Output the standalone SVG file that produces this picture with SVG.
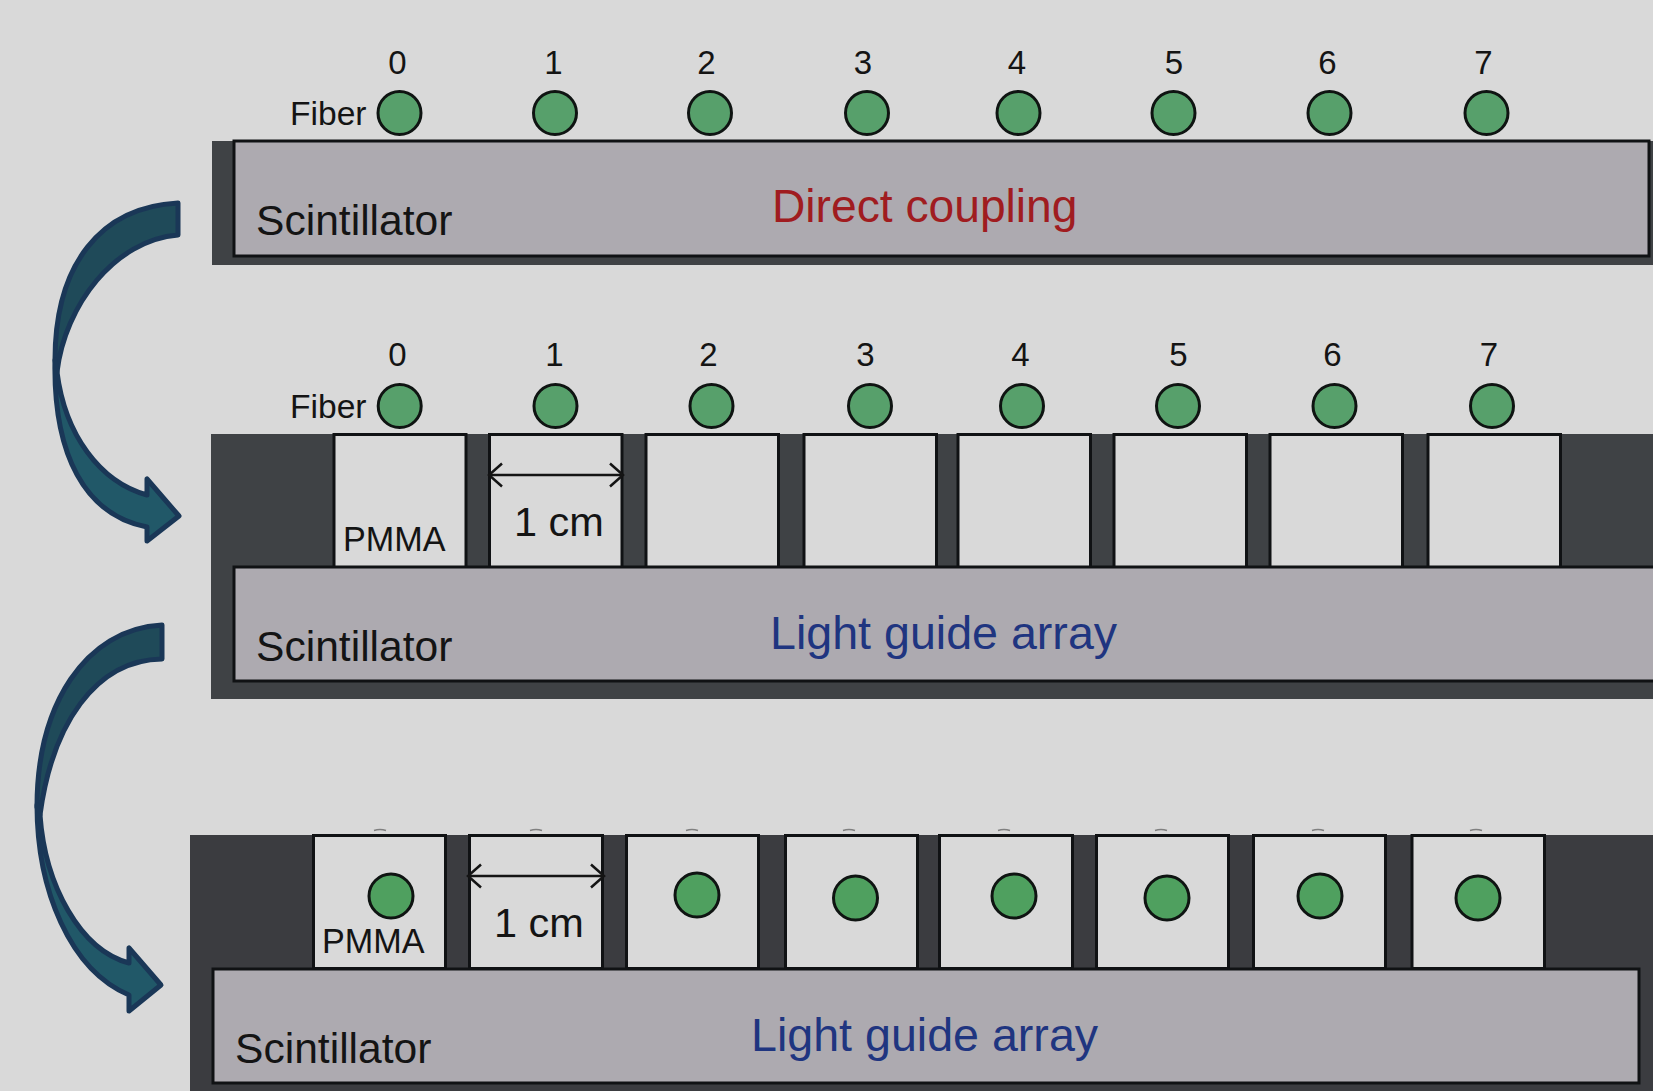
<svg xmlns="http://www.w3.org/2000/svg" width="1653" height="1091" viewBox="0 0 1653 1091">
<style>
text{font-family:"Liberation Sans",Arial,sans-serif;fill:#141414}
.band{fill:#3f4245}.band3{fill:#3b3c40}
.sc{fill:#adaab0;stroke:#101214;stroke-width:3}
.sq{fill:#d9d9d9;stroke:#101214;stroke-width:3}
.fb{fill:#57a06b;stroke:#0f1412;stroke-width:3}
.fb3{fill:#4fa05f;stroke:#0f1412;stroke-width:3}
.n{font-size:33px;text-anchor:middle}
.f{font-size:33.6px}
.s{font-size:42.6px}
.p{font-size:34.200px}
.c{font-size:41.500px}
.lg{font-size:46.600px;fill:#1f3580}
.dc{font-size:46.200px;fill:#a01c20}
.up{fill:#1f4a59;stroke:#1a3757;stroke-width:5;stroke-linejoin:round}
.lo{fill:#215868;stroke:#1a3757;stroke-width:5;stroke-linejoin:round}
.dim{fill:none;stroke:#141414;stroke-width:2.5;marker-start:url(#v);marker-end:url(#v)}
.tick{fill:none;stroke:#808080;stroke-width:1.500}
</style>
<defs>
<marker id="v" markerUnits="userSpaceOnUse" markerWidth="20" markerHeight="28" refX="14" refY="14" orient="auto-start-reverse"><path d="M1 2.500L14 14L1 25.500" fill="none" stroke="#141414" stroke-width="2.500"/></marker>
</defs>
<rect width="1653" height="1091" fill="#d9d9d9"/>
<g id="panel-direct">
<rect class="band" x="212" y="141" width="1441" height="124"/>
<rect class="sc" x="234" y="141" width="1415" height="115"/>
<text class="s" x="256" y="235">Scintillator</text>
<text class="dc" x="772" y="222">Direct coupling</text>
<text class="f" x="290" y="125">Fiber</text>
</g>
<g id="fibers-1">
<g id="f1-0"><text class="n" x="397.500" y="74">0</text><circle class="fb" cx="399.500" cy="113" r="21.500"/></g>
<g id="f1-1"><text class="n" x="553.500" y="74">1</text><circle class="fb" cx="555" cy="113" r="21.500"/></g>
<g id="f1-2"><text class="n" x="706.500" y="74">2</text><circle class="fb" cx="710" cy="113" r="21.500"/></g>
<g id="f1-3"><text class="n" x="863" y="74">3</text><circle class="fb" cx="867" cy="113" r="21.500"/></g>
<g id="f1-4"><text class="n" x="1017" y="74">4</text><circle class="fb" cx="1018.500" cy="113" r="21.500"/></g>
<g id="f1-5"><text class="n" x="1174" y="74">5</text><circle class="fb" cx="1173.500" cy="113" r="21.500"/></g>
<g id="f1-6"><text class="n" x="1327.500" y="74">6</text><circle class="fb" cx="1329.500" cy="113" r="21.500"/></g>
<g id="f1-7"><text class="n" x="1483.500" y="74">7</text><circle class="fb" cx="1486.500" cy="113" r="21.500"/></g>
</g>
<g id="panel-guide">
<rect class="band" x="211" y="434" width="1442" height="265"/>
<rect class="sq" x="334" y="434.500" width="132" height="133"/>
<rect class="sq" x="489.500" y="434.500" width="132.500" height="133"/>
<rect class="sq" x="646" y="434.500" width="132.500" height="133"/>
<rect class="sq" x="804" y="434.500" width="132.500" height="133"/>
<rect class="sq" x="958" y="434.500" width="132.500" height="133"/>
<rect class="sq" x="1114" y="434.500" width="132.500" height="133"/>
<rect class="sq" x="1270" y="434.500" width="132.500" height="133"/>
<rect class="sq" x="1428" y="434.500" width="132.500" height="133"/>
<rect class="sc" x="234" y="567" width="1422" height="114"/>
<text class="s" x="256" y="661">Scintillator</text>
<text class="lg" x="770" y="649">Light guide array</text>
<text class="f" x="290" y="418">Fiber</text>
<text class="p" x="343" y="551">PMMA</text>
<text class="c" x="514" y="536">1 cm</text>
</g>
<g id="fibers-2">
<g id="f2-0"><text class="n" x="397.500" y="366">0</text><circle class="fb" cx="399.700" cy="406" r="21.500"/></g>
<g id="f2-1"><text class="n" x="554.500" y="366">1</text><circle class="fb" cx="555.500" cy="406" r="21.500"/></g>
<g id="f2-2"><text class="n" x="708.500" y="366">2</text><circle class="fb" cx="711.500" cy="406" r="21.500"/></g>
<g id="f2-3"><text class="n" x="865.500" y="366">3</text><circle class="fb" cx="870" cy="406" r="21.500"/></g>
<g id="f2-4"><text class="n" x="1020.500" y="366">4</text><circle class="fb" cx="1022" cy="406" r="21.500"/></g>
<g id="f2-5"><text class="n" x="1178.500" y="366">5</text><circle class="fb" cx="1178" cy="406" r="21.500"/></g>
<g id="f2-6"><text class="n" x="1332.500" y="366">6</text><circle class="fb" cx="1334.500" cy="406" r="21.500"/></g>
<g id="f2-7"><text class="n" x="1489" y="366">7</text><circle class="fb" cx="1492" cy="406" r="21.500"/></g>
</g>
<g id="panel-embedded">
<path class="tick" d="M374 830.500q6 -2 12 0M530 830.500q6 -2 12 0M686 830.500q6 -2 12 0M843 830.500q6 -2 12 0M998 830.500q6 -2 12 0M1155 830.500q6 -2 12 0M1312 830.500q6 -2 12 0M1470 830.500q6 -2 12 0"/>
<rect class="band3" x="190" y="835" width="1463" height="256"/>
<rect class="sq" x="313.500" y="835.500" width="132" height="133"/>
<rect class="sq" x="469.500" y="835.500" width="133" height="133"/>
<rect class="sq" x="626.500" y="835.500" width="132" height="133"/>
<rect class="sq" x="785.500" y="835.500" width="132" height="133"/>
<rect class="sq" x="939.500" y="835.500" width="133" height="133"/>
<rect class="sq" x="1096.500" y="835.500" width="132" height="133"/>
<rect class="sq" x="1253.500" y="835.500" width="132" height="133"/>
<rect class="sq" x="1412" y="835.500" width="132.500" height="133"/>
<rect class="sc" x="213" y="969" width="1426" height="114"/>
<text class="s" x="235" y="1063">Scintillator</text>
<text class="lg" x="751" y="1051">Light guide array</text>
<text class="p" x="322" y="953">PMMA</text>
<text class="c" x="494" y="937">1 cm</text>
</g>
<g id="fibers-3">
<circle id="f3-0" class="fb3" cx="391" cy="896" r="22"/>
<circle id="f3-2" class="fb3" cx="697" cy="895" r="22"/>
<circle id="f3-3" class="fb3" cx="855.500" cy="898" r="22"/>
<circle id="f3-4" class="fb3" cx="1014" cy="896" r="22"/>
<circle id="f3-5" class="fb3" cx="1167" cy="898" r="22"/>
<circle id="f3-6" class="fb3" cx="1320" cy="896" r="22"/>
<circle id="f3-7" class="fb3" cx="1478" cy="898" r="22"/>
</g>
<g id="connectors">
<path class="dim" d="M489 475H623"/>
<path class="dim" d="M468 876H604"/>
<g id="arrow-1">
<path class="up" d="M178 203V235C115 240 65 305 57 372L55 360C55 265 100 207 178 203Z"/>
<path class="lo" d="M55 360C53 455 85 515 147 527V541L179 516L147 479V495C100 482 65 435 57 372Z"/>
</g>
<g id="arrow-2">
<path class="up" d="M162 625V659C95 660 52 725 40 815L37 807C37 705 85 629 162 625Z"/>
<path class="lo" d="M37 805C37 890 70 970 129 995V1011L161 985L129 948V963C80 950 45 885 40 815Z"/>
</g>
</g>
</svg>
